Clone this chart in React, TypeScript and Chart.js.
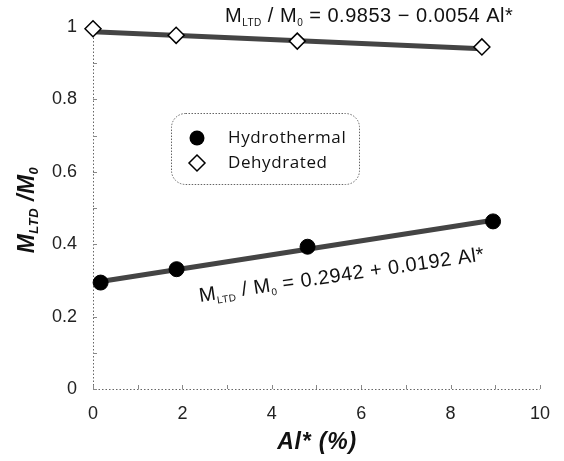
import React, { useEffect, useRef } from "react";
import { Chart, registerables } from "chart.js";

Chart.register(...registerables);

// Measured data
const hydroX = [0.17, 1.87, 4.8, 8.95];
const hydroY = [0.294, 0.331, 0.393, 0.463];
const dehydX = [0.0, 1.86, 4.57, 8.7];
const dehydY = [0.995, 0.977, 0.961, 0.945];

// Regression line endpoints
const hydroFitX = [0.17, 8.95];
const hydroFitY = [0.297, 0.466];
const dehydFitX = [0.0, 8.7];
const dehydFitY = [0.987, 0.94];

const yTicks = [0, 0.2, 0.4, 0.6, 0.8, 1];
const xTicks = [0, 2, 4, 6, 8, 10];

const legendLabels = ["Hydrothermal", "Dehydrated"];
const xTitle = "Al* (%)";
const eqTop = "= 0.9853 \u2212 0.0054 Al*";
const eqBottom = "= 0.2942 + 0.0192 Al*";

type Part = { t: string; sub?: boolean };

function setLS(ctx: any, v: number) {
  if ("letterSpacing" in ctx) ctx.letterSpacing = `${v}px`;
}

function drawRich(ctx: CanvasRenderingContext2D, parts: Part[], x: number, y: number, size: number, family: string, style: string, subSize: number, subDrop: number, color: string, ls: number) {
  let cx = x;
  ctx.fillStyle = color;
  ctx.textBaseline = "alphabetic";
  ctx.textAlign = "left";
  setLS(ctx, ls);
  for (const p of parts) {
    if (p.sub) {
      ctx.font = `${style} ${subSize}px ${family}`;
      ctx.fillText(p.t, cx, y + subDrop);
    } else {
      ctx.font = `${style} ${size}px ${family}`;
      ctx.fillText(p.t, cx, y);
    }
    cx += ctx.measureText(p.t).width;
  }
  setLS(ctx, 0);
  return cx - x;
}

function measureRich(ctx: CanvasRenderingContext2D, parts: Part[], size: number, family: string, style: string, subSize: number, ls: number) {
  let w = 0;
  setLS(ctx, ls);
  for (const p of parts) {
    ctx.font = `${style} ${p.sub ? subSize : size}px ${family}`;
    w += ctx.measureText(p.t).width;
  }
  setLS(ctx, 0);
  return w;
}

const decorPlugin = {
  id: "decor",
  beforeDatasetsDraw(chart: any) {
    const { ctx, chartArea, scales } = chart;
    const xs = scales.x;
    const ys = scales.y;
    ctx.save();
    ctx.strokeStyle = "#666";
    ctx.lineWidth = 1;
    ctx.setLineDash([1.5, 2]);
    ctx.beginPath();
    ctx.moveTo(chartArea.left + 0.5, chartArea.top);
    ctx.lineTo(chartArea.left + 0.5, chartArea.bottom + 0.5);
    ctx.lineTo(chartArea.right, chartArea.bottom + 0.5);
    ctx.stroke();
    ctx.setLineDash([]);
    ctx.strokeStyle = "#888";
    ctx.beginPath();
    for (let v = 0; v <= 10; v++) {
      const px = Math.round(xs.getPixelForValue(v)) + 0.5;
      ctx.moveTo(px, chartArea.bottom);
      ctx.lineTo(px, chartArea.bottom - 4);
    }
    for (let i = 0; i <= 10; i++) {
      const py = Math.round(ys.getPixelForValue(i / 10)) + 0.5;
      ctx.moveTo(chartArea.left, py);
      ctx.lineTo(chartArea.left + 4, py);
    }
    ctx.stroke();
    ctx.restore();
  },
  afterDraw(chart: any) {
    const { ctx } = chart;
    const fam = "'Liberation Sans', Arial, sans-serif";
    ctx.save();
    const eqParts = (rest: string): Part[] => [{ t: "M" }, { t: "LTD", sub: true }, { t: " / M" }, { t: "0", sub: true }, { t: " " + rest }];
    // Top equation
    drawRich(ctx, eqParts(eqTop), 225, 22, 20, fam, "normal", 10, 4, "#111", 0.5);
    // Bottom equation, rotated
    ctx.save();
    ctx.translate(200, 302);
    ctx.rotate(-0.145);
    drawRich(ctx, eqParts(eqBottom), 0, 0, 20, fam, "normal", 10, 4, "#111", 0.5);
    ctx.restore();

    // Y title rotated
    ctx.save();
    const yParts: Part[] = [{ t: "M" }, { t: "LTD", sub: true }, { t: " /M" }, { t: "0", sub: true }];
    const w = measureRich(ctx, yParts, 23, fam, "italic bold", 13, 0.5);
    ctx.translate(34, 210);
    ctx.rotate(-Math.PI / 2);
    drawRich(ctx, yParts, -w / 2, 0, 23, fam, "italic bold", 13, 4, "#111", 0.5);
    ctx.restore();

    // X title
    ctx.font = `italic bold 23px ${fam}`;
    setLS(ctx, 0.8);
    ctx.fillStyle = "#111";
    ctx.textAlign = "center";
    ctx.textBaseline = "alphabetic";
    ctx.fillText(xTitle, 317, 449);
    setLS(ctx, 0);

    // Legend box
    const bx = 171.5, by = 113.5, bw = 188, bh = 71, r = 14;
    ctx.beginPath();
    ctx.moveTo(bx + r, by);
    ctx.arcTo(bx + bw, by, bx + bw, by + bh, r);
    ctx.arcTo(bx + bw, by + bh, bx, by + bh, r);
    ctx.arcTo(bx, by + bh, bx, by, r);
    ctx.arcTo(bx, by, bx + bw, by, r);
    ctx.closePath();
    ctx.fillStyle = "#fff";
    ctx.fill();
    ctx.strokeStyle = "#666";
    ctx.lineWidth = 1;
    ctx.setLineDash([1.5, 1.5]);
    ctx.stroke();
    ctx.setLineDash([]);
    // markers
    ctx.beginPath();
    ctx.arc(197, 138, 7.5, 0, Math.PI * 2);
    ctx.fillStyle = "#000";
    ctx.fill();
    ctx.beginPath();
    ctx.moveTo(197, 155);
    ctx.lineTo(205, 163);
    ctx.lineTo(197, 171);
    ctx.lineTo(189, 163);
    ctx.closePath();
    ctx.fillStyle = "#fff";
    ctx.fill();
    ctx.strokeStyle = "#000";
    ctx.lineWidth = 1.5;
    ctx.stroke();
    ctx.font = "17px 'Open Sans', sans-serif";
    setLS(ctx, 0.6);
    ctx.fillStyle = "#111";
    ctx.textAlign = "left";
    ctx.textBaseline = "middle";
    ctx.fillText(legendLabels[0], 228, 138);
    ctx.fillText(legendLabels[1], 228, 163);
    setLS(ctx, 0);
    ctx.restore();
  },
};

export default function App() {
  const ref = useRef<HTMLCanvasElement | null>(null);
  useEffect(() => {
    if (!ref.current) return;
    const tickFont = { family: "'Liberation Sans', Arial, sans-serif", size: 18 };
    const chart = new Chart(ref.current, {
      type: "scatter",
      data: {
        datasets: [
          {
            label: legendLabels[0],
            data: hydroX.map((x, i) => ({ x, y: hydroY[i] })),
            pointStyle: "circle",
            pointRadius: 7.5,
            backgroundColor: "#000",
            borderColor: "#000",
            borderWidth: 1,
            clip: false,
            order: 0,
          },
          {
            label: legendLabels[1],
            data: dehydX.map((x, i) => ({ x, y: dehydY[i] })),
            pointStyle: "rectRot",
            pointRadius: 8,
            backgroundColor: "#fff",
            borderColor: "#000",
            borderWidth: 1.5,
            clip: false,
            order: 1,
          },
          {
            label: "fitH",
            type: "line",
            data: hydroFitX.map((x, i) => ({ x, y: hydroFitY[i] })),
            showLine: true,
            pointRadius: 0,
            borderColor: "#444",
            borderWidth: 5,
            clip: false,
            order: 2,
          },
          {
            label: "fitD",
            type: "line",
            data: dehydFitX.map((x, i) => ({ x, y: dehydFitY[i] })),
            showLine: true,
            pointRadius: 0,
            borderColor: "#444",
            borderWidth: 5,
            clip: false,
            order: 3,
          },
        ] as any,
      },
      options: {
        animation: false,
        responsive: false,
        layout: { padding: { left: 0, top: 27, right: 21, bottom: 0 } },
        plugins: { legend: { display: false }, tooltip: { enabled: false } },
        scales: {
          x: {
            type: "linear",
            min: 0,
            max: 10,
            afterBuildTicks: (s: any) => { s.ticks = xTicks.map((v) => ({ value: v })); },
            afterFit: (s: any) => { s.height = 72; },
            grid: { display: false, drawTicks: false },
            border: { display: false },
            ticks: { font: tickFont, color: "#222", padding: 14 },
          },
          y: {
            type: "linear",
            min: 0,
            max: 1,
            afterBuildTicks: (s: any) => { s.ticks = yTicks.map((v) => ({ value: v })); },
            afterFit: (s: any) => { s.width = 93; },
            grid: { display: false, drawTicks: false },
            border: { display: false },
            ticks: { font: tickFont, color: "#222", padding: 16, callback: (v: any) => String(Number(v)) },
          },
        },
      },
      plugins: [decorPlugin],
    });
    return () => chart.destroy();
  }, []);
  return (
    <div style={{ position: "absolute", left: 0, top: 0, width: 564, height: 461, background: "#fff" }}>
      <canvas ref={ref} width={564} height={461} style={{ display: "block" }} />
    </div>
  );
}
